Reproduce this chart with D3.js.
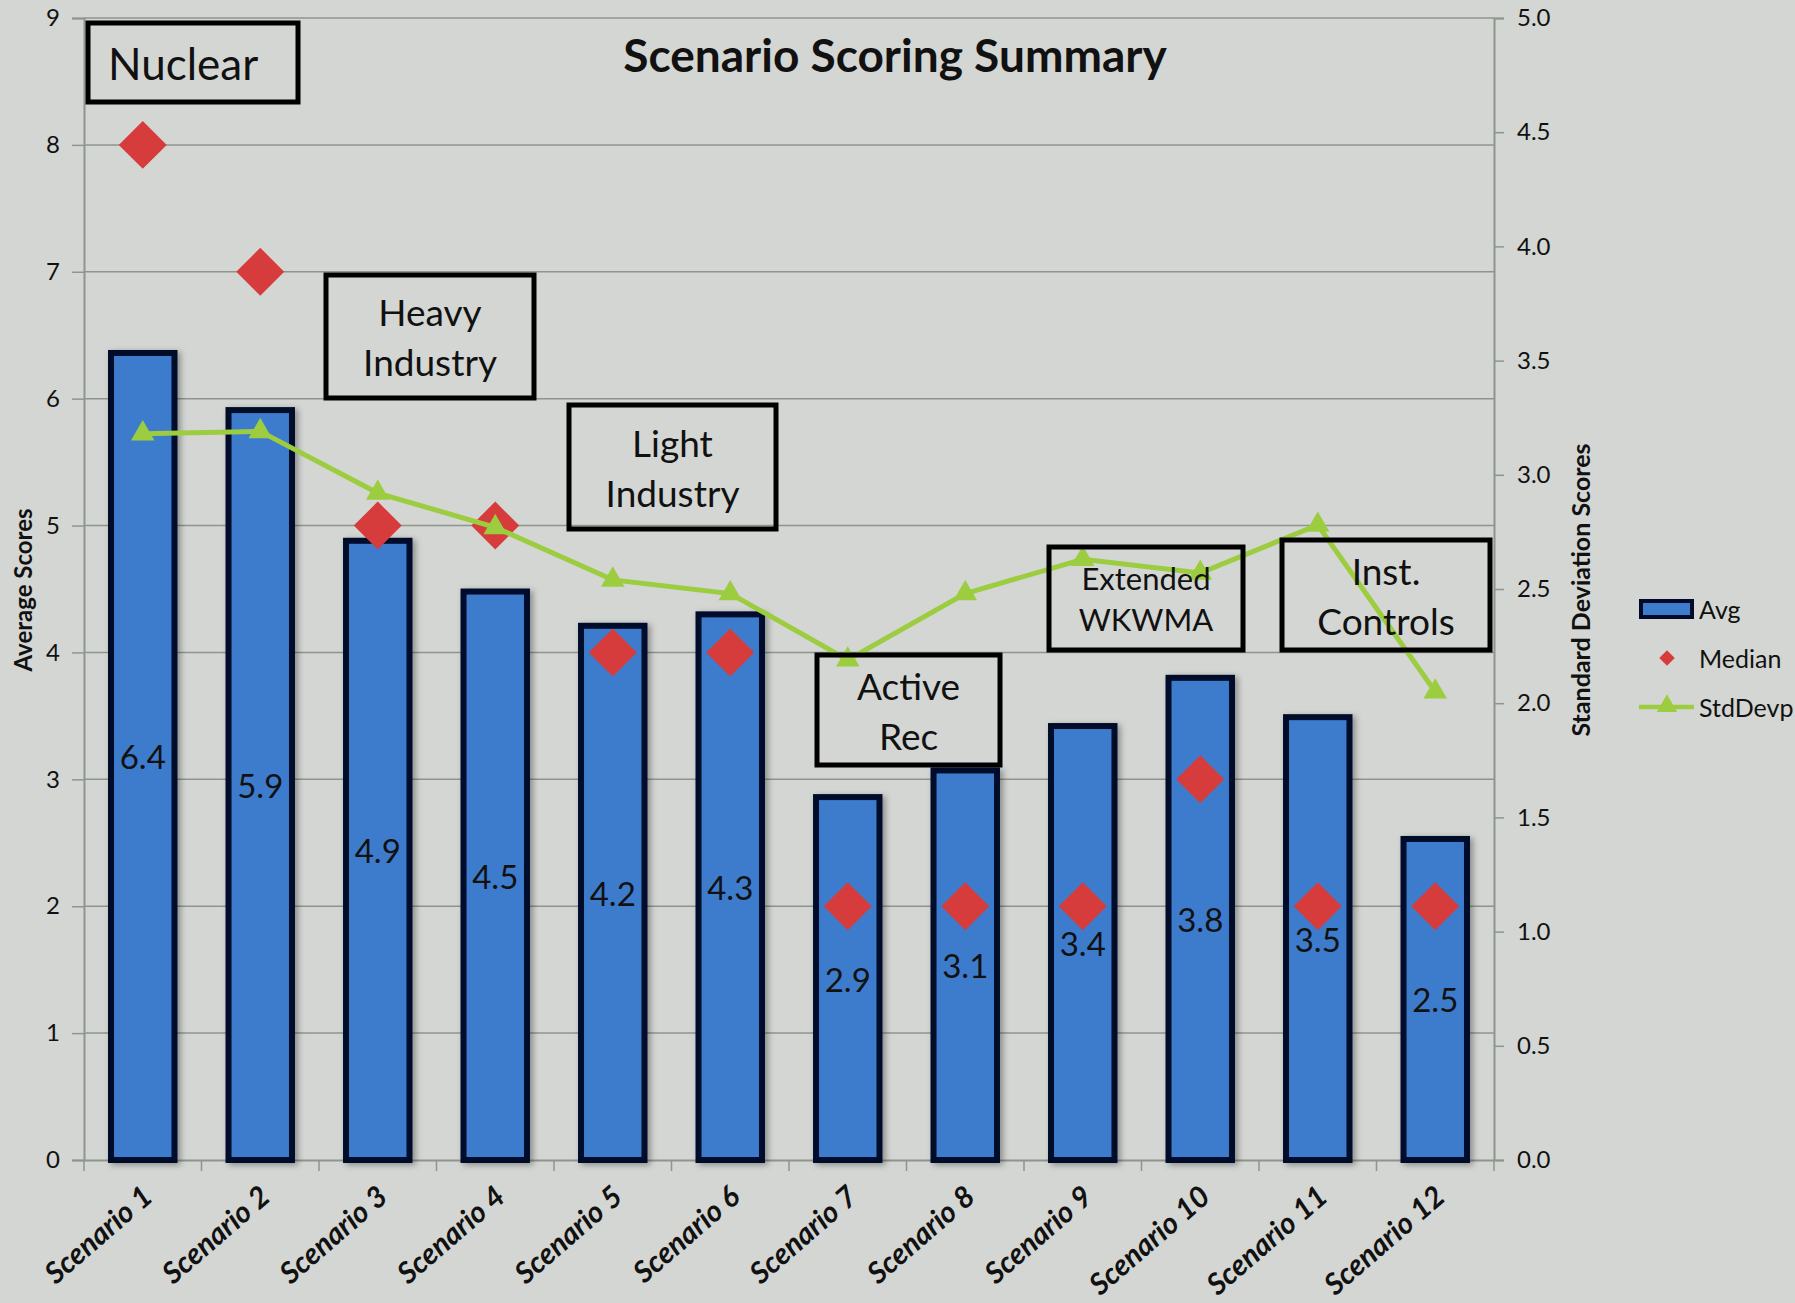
<!DOCTYPE html>
<html>
<head>
<meta charset="utf-8">
<script src="https://cdn.jsdelivr.net/npm/d3@7"></script>
<style>
  html, body { margin: 0; padding: 0; background: #d4d6d3; }
  svg { display: block; }
  text { font-family: Lato, "Open Sans", sans-serif; fill: #111; }
</style>
</head>
<body>
<svg id="chart" width="1795" height="1303"></svg>
<script>
// ---- data ----
const categories = ["Scenario 1","Scenario 2","Scenario 3","Scenario 4","Scenario 5","Scenario 6",
                    "Scenario 7","Scenario 8","Scenario 9","Scenario 10","Scenario 11","Scenario 12"];
const avgValues    = [6.36, 5.91, 4.88, 4.48, 4.21, 4.30, 2.86, 3.07, 3.42, 3.80, 3.49, 2.53];
const medianValues = [8, 7, 5, 5, 4, 4, 2, 2, 2, 3, 2, 2];
const stdValues    = [3.18, 3.19, 2.92, 2.77, 2.54, 2.48, 2.19, 2.48, 2.63, 2.57, 2.78, 2.05];
const leftTicks  = [0,1,2,3,4,5,6,7,8,9];
const rightTicks = [0,0.5,1,1.5,2,2.5,3,3.5,4,4.5,5];
const annotations = [
  {lines:["Nuclear"], x0:88, y0:23, x1:298, y1:102, align:"left"},
  {lines:["Heavy","Industry"], x0:326, y0:275, x1:534, y1:398},
  {lines:["Light","Industry"], x0:569, y0:405, x1:776, y1:529},
  {lines:["Active","Rec"], x0:817, y0:655, x1:1000, y1:765},
  {lines:["Extended","WKWMA"], x0:1049, y0:547, x1:1243, y1:650, small:true},
  {lines:["Inst.","Controls"], x0:1282, y0:540, x1:1490, y1:650}
];
const legendItems = ["Avg","Median","StdDevp"];

// ---- layout ----
const svg = d3.select("#chart");
const L = 84, R = 1494, T = 18, B = 1160;
const colors = {bar:"#3d7ccd", barStroke:"#020a2a", median:"#d63c3c", std:"#9ccc3f", grid:"#8c968c"};

const x = d3.scaleBand().domain(categories).range([L, R]).paddingInner(0.46).paddingOuter(0.23);
const yL = d3.scaleLinear().domain([0, 9]).range([B, T]);
const yR = d3.scaleLinear().domain([0, 5]).range([B, T]);

const defs = svg.append("defs");
const f = defs.append("filter").attr("id","shadow").attr("x","-30%").attr("y","-10%").attr("width","160%").attr("height","130%");
f.append("feDropShadow").attr("dx",3).attr("dy",2).attr("stdDeviation",3).attr("flood-color","#000").attr("flood-opacity",0.35);

// gridlines
svg.append("g").selectAll("line").data(leftTicks.filter(d=>d>0)).join("line")
  .attr("x1", L).attr("x2", R).attr("y1", d=>yL(d)).attr("y2", d=>yL(d))
  .attr("stroke", colors.grid).attr("stroke-width", 1.5);

// left axis
const gL = svg.append("g").attr("transform", `translate(${L},0)`)
  .call(d3.axisLeft(yL).tickValues(leftTicks).tickFormat(d3.format("d")).tickSize(12).tickPadding(12));
// right axis
const gR = svg.append("g").attr("transform", `translate(${R},0)`)
  .call(d3.axisRight(yR).tickValues(rightTicks).tickFormat(d3.format(".1f")).tickSize(10).tickPadding(13));
// bottom axis line
const gB = svg.append("g").attr("transform", `translate(0,${B})`)
  .call(d3.axisBottom(x).tickSize(0).tickFormat(""));
[gL, gR, gB].forEach(g => {
  g.selectAll("path.domain").attr("stroke", colors.grid).attr("stroke-width", 2);
  g.selectAll(".tick line").attr("stroke", colors.grid).attr("stroke-width", 1.5);
  g.selectAll(".tick text").attr("font-size", 24).attr("fill", "#222").style("font-family","Lato, sans-serif");
});
// category boundary tick marks
svg.append("g").selectAll("line").data(d3.range(categories.length + 1)).join("line")
  .attr("x1", i => L + i * (R - L) / categories.length)
  .attr("x2", i => L + i * (R - L) / categories.length)
  .attr("y1", B).attr("y2", B + 11)
  .attr("stroke", colors.grid).attr("stroke-width", 1.5);

// x labels
svg.append("g").selectAll("text").data(categories).join("text")
  .attr("transform", d => `translate(${x(d) + x.bandwidth()/2 - 2},${B + 24}) rotate(-41)`)
  .attr("text-anchor", "end").attr("dy", "0.7em")
  .attr("font-size", 29.5).attr("font-weight", "bold").attr("font-style","italic")
  .text(d => d);

// bars
svg.append("g").selectAll("rect").data(categories).join("rect")
  .attr("x", d => x(d)).attr("width", x.bandwidth())
  .attr("y", (d,i) => yL(avgValues[i])).attr("height", (d,i) => B - yL(avgValues[i]))
  .attr("fill", colors.bar).attr("stroke", colors.barStroke).attr("stroke-width", 6)
  .attr("filter", "url(#shadow)");

// bar value labels (centered)
svg.append("g").selectAll("text").data(categories).join("text")
  .attr("x", d => x(d) + x.bandwidth()/2)
  .attr("y", (d,i) => yL(avgValues[i] / 2))
  .attr("text-anchor", "middle").attr("dominant-baseline", "central")
  .attr("font-size", 33).attr("fill", "#111")
  .text((d,i) => d3.format(".1f")(avgValues[i]));

// median diamonds
const diamond = d3.symbol().type(d3.symbolSquare).size(1150);
svg.append("g").selectAll("path").data(categories).join("path")
  .attr("d", diamond)
  .attr("transform", (d,i) => `translate(${x(d) + x.bandwidth()/2},${yL(medianValues[i])}) rotate(45)`)
  .attr("fill", colors.median);

// std dev line
const line = d3.line().x((d,i) => x(categories[i]) + x.bandwidth()/2).y(d => yR(d));
svg.append("path").datum(stdValues).attr("d", line)
  .attr("fill", "none").attr("stroke", colors.std).attr("stroke-width", 5);
const tri = d3.symbol().type(d3.symbolTriangle).size(240);
svg.append("g").selectAll("path").data(stdValues).join("path")
  .attr("d", tri)
  .attr("transform", (d,i) => `translate(${x(categories[i]) + x.bandwidth()/2},${yR(d)})`)
  .attr("fill", colors.std);

// annotation boxes
const ann = svg.append("g").selectAll("g").data(annotations).join("g");
ann.append("rect")
  .attr("x", d => d.x0).attr("y", d => d.y0)
  .attr("width", d => d.x1 - d.x0).attr("height", d => d.y1 - d.y0)
  .attr("fill", "none").attr("stroke", "#000").attr("stroke-width", 5);
ann.each(function(d) {
  const g = d3.select(this);
  const fs = d.small ? 31 : 37;
  const lh = d.small ? 41 : 50;
  const cy = (d.y0 + d.y1) / 2;
  const n = d.lines.length;
  d.lines.forEach((t, k) => {
    g.append("text")
      .attr("x", d.align === "left" ? d.x0 + 20 : (d.x0 + d.x1) / 2)
      .attr("y", cy + (k - (n - 1) / 2) * lh)
      .attr("text-anchor", d.align === "left" ? "start" : "middle")
      .attr("dominant-baseline", "central")
      .attr("font-size", d.align === "left" ? 44 : fs)
      .text(t);
  });
});

// title
svg.append("text").attr("x", 895).attr("y", 54)
  .attr("text-anchor", "middle").attr("dominant-baseline", "central")
  .attr("font-size", 46).attr("font-weight", "bold").text("Scenario Scoring Summary");

// axis titles
svg.append("text").attr("transform", `translate(22,${590}) rotate(-90)`)
  .attr("text-anchor", "middle").attr("dominant-baseline", "central")
  .attr("font-size", 24).attr("font-weight", "bold").text("Average Scores");
svg.append("text").attr("transform", `translate(1580,${590}) rotate(-90)`)
  .attr("text-anchor", "middle").attr("dominant-baseline", "central")
  .attr("font-size", 25).attr("font-weight", "bold").text("Standard Deviation Scores");

// legend
const lg = svg.append("g").attr("transform", "translate(1639,0)");
const ly = [609, 658, 707];
lg.append("rect").attr("x", 2).attr("y", ly[0] - 8).attr("width", 51).attr("height", 16)
  .attr("fill", colors.bar).attr("stroke", colors.barStroke).attr("stroke-width", 4);
lg.append("path").attr("d", d3.symbol().type(d3.symbolSquare).size(120))
  .attr("transform", `translate(28,${ly[1]}) rotate(45)`).attr("fill", colors.median);
lg.append("line").attr("x1", 0).attr("x2", 55).attr("y1", ly[2]).attr("y2", ly[2])
  .attr("stroke", colors.std).attr("stroke-width", 4.5);
lg.append("path").attr("d", d3.symbol().type(d3.symbolTriangle).size(180))
  .attr("transform", `translate(28,${ly[2] - 1})`).attr("fill", colors.std);
lg.selectAll("text.lt").data(legendItems).join("text").attr("class","lt")
  .attr("x", 60).attr("y", (d,i) => ly[i])
  .attr("dominant-baseline", "central").attr("font-size", 25).text(d => d);
</script>
</body>
</html>
